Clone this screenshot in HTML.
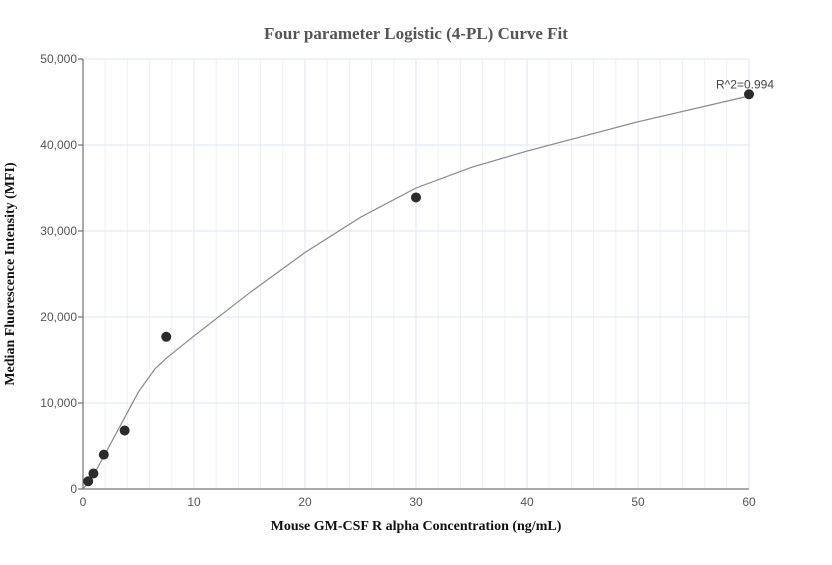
<!DOCTYPE html>
<html><head><meta charset="utf-8"><style>
body{margin:0;background:#fff;font-family:"Liberation Sans",sans-serif}
svg text{font-family:"Liberation Sans",sans-serif}
</style></head><body>
<svg width="832" height="560" id="c">
<text x="416" y="39" text-anchor="middle" font-family="Liberation Serif" font-weight="bold" font-size="17" fill="#555" style="font-family:'Liberation Serif',serif">Four parameter Logistic (4-PL) Curve Fit</text>
<text x="416" y="530" text-anchor="middle" font-weight="bold" font-size="14" style="font-family:'Liberation Serif',serif" fill="#111">Mouse GM-CSF R alpha Concentration (ng/mL)</text>
<text transform="translate(14,274) rotate(-90)" text-anchor="middle" font-weight="bold" font-size="14" style="font-family:'Liberation Serif',serif" fill="#111">Median Fluorescence Intensity (MFI)</text>
<g id="grid"></g><g id="axes"></g><g id="marks"></g>
</svg>
<script>
const xTicks=[0,10,20,30,40,50,60];
const yTicks=[0,10000,20000,30000,40000,50000];
const yLabels=["0","10,000","20,000","30,000","40,000","50,000"];
const dataX=[0.47,0.94,1.875,3.75,7.5,30,60];
const dataY=[900,1800,4000,6800,17700,33900,45900];
const curveX=[0,0.47,0.94,1.875,3.75,5,6.5,7.5,10,15,20,25,30,35,40,50,60];
const curveY=[0,700,1600,3800,8300,11300,14000,15200,17800,22800,27500,31600,35000,37400,39300,42700,45700];
const r2Label="R^2=0.994";
const L=83,R=749,T=59,B=489;
const sx=v=>L+(v-0)/60*(R-L), sy=v=>B-v/50000*(B-T);
const NS="http://www.w3.org/2000/svg";
function mk(tag,attrs,parent,text){const e=document.createElementNS(NS,tag);for(const k in attrs)e.setAttribute(k,attrs[k]);if(text!=null)e.textContent=text;document.getElementById(parent).appendChild(e);return e;}
for(let v=2;v<=60;v+=2){if(v%10===0)continue;const e=mk('line',{x1:sx(v),x2:sx(v),y1:T,y2:B,stroke:'#eef1f8','stroke-width':1},'grid');

}
xTicks.forEach(v=>{if(v>0){const g=mk('line',{x1:sx(v),x2:sx(v),y1:T,y2:B,stroke:'#dfe5f2'},'grid');

}
const t=mk('text',{x:sx(v),y:B+17,'text-anchor':'middle','font-size':12,fill:'#555'},'axes',v);

});
yTicks.forEach((v,i)=>{if(v>0){const g=mk('line',{x1:L,x2:R,y1:sy(v),y2:sy(v),stroke:'#dfe5f2'},'grid');

}
mk('line',{x1:L-5,x2:L,y1:sy(v),y2:sy(v),stroke:'#555'},'axes');
const t=mk('text',{x:L-6,y:sy(v)+4,'text-anchor':'end','font-size':12,fill:'#555'},'axes',yLabels[i]);

});
const ya=mk('line',{x1:L,x2:L,y1:T,y2:B,stroke:'#555'},'axes');


const xa=mk('line',{x1:L,x2:R,y1:B,y2:B,stroke:'#555'},'axes');


const p=mk('path',{d:curveX.map((x,i)=>(i?'L':'M')+sx(x)+','+sy(curveY[i])).join(''),fill:'none',stroke:'#888','stroke-width':1.2},'marks');


dataX.forEach((x,i)=>{const c=mk('circle',{cx:sx(x),cy:sy(dataY[i]),r:5,fill:'#2b2b2b'},'marks');

});
const lb=mk('text',{x:sx(60)-33,y:sy(dataY[6])-6,'font-size':12,fill:'#444'},'marks',r2Label);


</script>
</body></html>
